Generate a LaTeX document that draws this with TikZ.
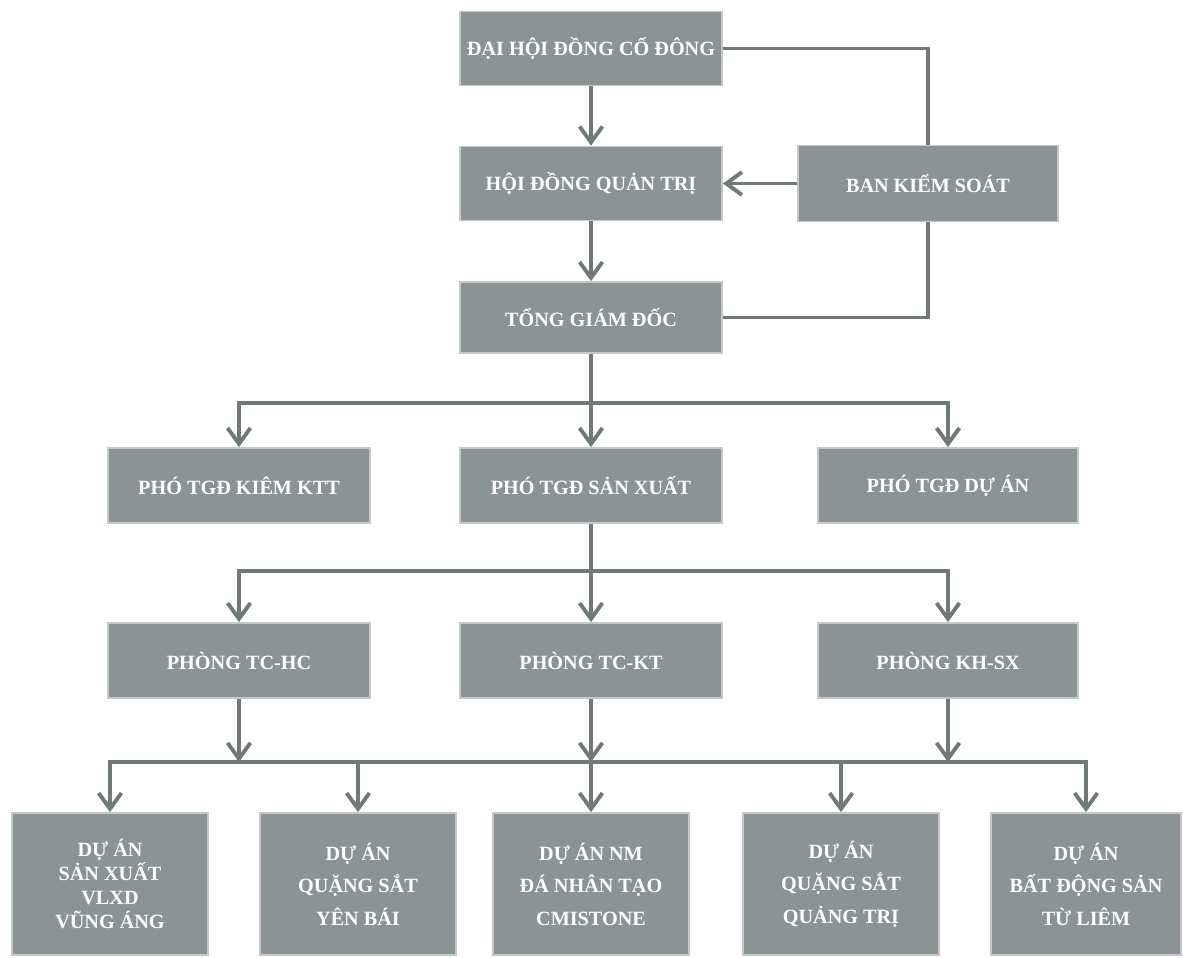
\documentclass[tikz,border=0pt]{standalone}
\usepackage{fontspec}
\setmainfont{Liberation Serif}
\usepackage{xcolor}
\usepackage{tikz}
\usetikzlibrary{arrows.meta,positioning}
\definecolor{boxgray}{RGB}{138,148,148}
\definecolor{linegray}{RGB}{112,120,120}
\definecolor{edgegray}{RGB}{196,200,200}

\begin{document}
\begin{tikzpicture}[>={Straight Barb[length=9pt,width=13pt]},
    unit/.style={draw=edgegray, fill=boxgray, line width=1pt, text=white, inner sep=0pt,
        font=\bfseries\fontsize{11.5}{13}\selectfont, minimum width=5.24cm, minimum height=1.48cm},
    project/.style={unit, align=center, minimum width=3.92cm, minimum height=2.84cm,
        font=\bfseries\fontsize{11.5}{18.5}\selectfont},
    link/.style={draw=linegray, line width=2.2pt}]
                        \useasboundingbox (0,0) rectangle (23.66,-19.16);
                        \node[unit] (dhdcd) at (11.82, -0.97) {ĐẠI HỘI ĐỒNG CỔ ĐÔNG};
                        \node[unit] (hdqt) at (11.82, -3.67) {HỘI ĐỒNG QUẢN TRỊ};
                        \node[unit, minimum width=5.2cm, minimum height=1.52cm] (bks) at (18.56, -3.67) {BAN KIỂM SOÁT};
                        \node[unit, minimum height=1.42cm] (tgd) at (11.82, -6.35) {TỔNG GIÁM ĐỐC};
                        \node[unit, minimum height=1.5cm] (ptgdktt) at (4.78, -9.71) {PHÓ TGĐ KIÊM KTT};
                        \node[unit, minimum height=1.5cm] (ptgdsx) at (11.82, -9.71) {PHÓ TGĐ SẢN XUẤT};
                        \node[unit, minimum width=5.2cm, minimum height=1.5cm] (ptgdda) at (18.96, -9.71) {PHÓ TGĐ DỰ ÁN};
                        \node[unit, minimum height=1.5cm] (ptchc) at (4.78, -13.21) {PHÒNG TC-HC};
                        \node[unit, minimum height=1.5cm] (ptckt) at (11.82, -13.21) {PHÒNG TC-KT};
                        \node[unit, minimum width=5.2cm, minimum height=1.5cm] (pkhsx) at (18.96, -13.21) {PHÒNG KH-SX};
                        \node[project, font=\bfseries\fontsize{11.5}{13.5}\selectfont] (vungang) at (2.20, -17.68) {DỰ ÁN\\SẢN XUẤT\\VLXD\\VŨNG ÁNG};
                        \node[project] (yenbai) at (7.16, -17.68) {DỰ ÁN\\QUẶNG SẮT\\YÊN BÁI};
                        \node[project] (cmistone) at (11.82, -17.68) {DỰ ÁN NM\\ĐÁ NHÂN TẠO\\CMISTONE};
                        \node[project] (quangtri) at (16.82, -17.68) {DỰ ÁN\\QUẶNG SẮT\\QUẢNG TRỊ};
                        \node[project, minimum width=3.8cm] (tuliem) at (21.72, -17.68) {DỰ ÁN\\BẤT ĐỘNG SẢN\\TỪ LIÊM};
                        \coordinate (bus1) at (11.82, -8.06);
                        \coordinate (bus2) at (11.82, -11.42);
                        \coordinate (bus3) at (11.82, -15.24);
                        \coordinate (bus3l) at (4.78, -15.24);
                        \coordinate (bus3r) at (18.96, -15.24);
                        \draw [link, ->] (dhdcd) -- (hdqt);
                        \draw [link, ->] (hdqt) -- (tgd);
                        \draw [link] (dhdcd.east) -| (bks.north);
                        \draw [link, ->] (bks) -- (hdqt);
                        \draw [link] (bks.south) |- (tgd.east);
                        \draw [link] (tgd) -- (bus1);
                        \draw [link, ->] (bus1) -| (ptgdktt);
                        \draw [link, ->] (bus1) -- (ptgdsx);
                        \draw [link, ->] (bus1) -| (ptgdda);
                        \draw [link] (ptgdsx) -- (bus2);
                        \draw [link, ->] (bus2) -| (ptchc);
                        \draw [link, ->] (bus2) -- (ptckt);
                        \draw [link, ->] (bus2) -| (pkhsx);
                        \draw [link, ->] (ptchc) -- (bus3l);
                        \draw [link, ->] (ptckt) -- (bus3);
                        \draw [link, ->] (pkhsx) -- (bus3r);
                        \draw [link, ->] (bus3) -| (vungang);
                        \draw [link, ->] (bus3) -| (yenbai);
                        \draw [link, ->] (bus3) -- (cmistone);
                        \draw [link, ->] (bus3) -| (quangtri);
                        \draw [link, ->] (bus3) -| (tuliem);
                        \end{tikzpicture}
\end{document}
